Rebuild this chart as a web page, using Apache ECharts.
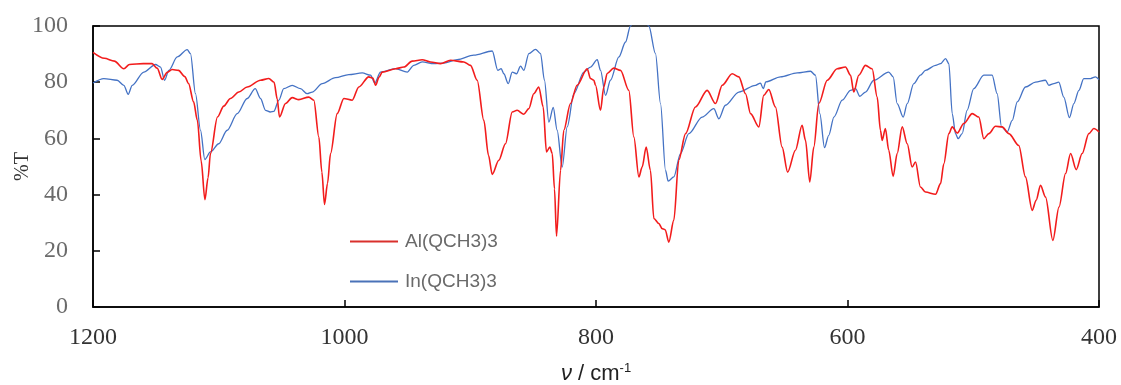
<!DOCTYPE html>
<html>
<head>
<meta charset="utf-8">
<script src="https://cdn.jsdelivr.net/npm/echarts@6/dist/echarts.min.js"></script>
<style>html,body{margin:0;padding:0;background:#fff;}#c{width:1121px;height:385px;}</style>
</head>
<body>
<div id="c"></div>
<script>
const xTicks = [1200, 1000, 800, 600, 400];
const yTicks = [0, 20, 40, 60, 80, 100];
const seriesNames = ['Al(QCH3)3', 'In(QCH3)3'];

const alWn = [1200,1191,1183,1175.5,1171,1160,1153,1149,1145,1141,1137,1132,1127,1124,1120,1117,1114,1111,1108.5,1106.6,1101,1096,1090.7,1084,1077.4,1066.8,1060.2,1056,1053.5,1051.7,1046.9,1041.6,1036.3,1028.4,1024.4,1020.4,1018,1015.9,1013.5,1011.1,1005.8,1000.5,993.9,988.6,980.7,977.5,975.3,972.5,970,959.4,952.8,946.2,938.2,931.6,923.7,915.7,905.1,899.8,894.5,889.2,885.5,882.5,877.3,872,866.6,862.7,857.4,853.4,849.5,845.5,842,839.4,836.7,834.8,833,831.4,828.2,825.6,820.3,815,807,804.4,801.7,800.4,796.4,793.8,791.1,785.9,780.5,773.9,769.9,765.9,763.3,760.1,756.7,754,750,747.4,745,742.1,738.1,734.2,728.8,720.9,711.6,705,699.6,691.7,686.4,681.1,677.1,670.5,666.6,662.6,657.3,652,647.6,641.4,636.1,633.4,630,626.8,622.8,616.1,608.2,601.6,597.6,595,591,585.7,580.4,576.4,573.8,572.4,569.9,567.2,563.7,560.5,556.5,552.5,548.6,545.9,542,538,530,526,523.4,519.4,516.7,512.8,507.5,500.8,495.6,491.6,487.6,482.3,477,471.7,463.8,458.5,453.1,450,446.5,442.5,436.7,431.8,426.6,422.6,418.1,413.4,408.1,404.1,400];
const alT = [90.6,88.5,87.5,84.8,86.3,86.6,86.6,85,81,83.5,84.5,84.2,82,79.5,73,66.4,52,38.2,46,54.6,67.6,71.5,74.2,76.5,78.3,80.7,81.3,80,74,67.6,72.4,74.5,73.8,74.7,73.6,60.5,48,36.5,44,54.6,68.8,74.2,73.6,78.3,81.9,81.5,78.9,81.8,83.6,84.8,85.4,87.5,88,87.2,86.6,87.8,87.2,86,80.7,66.4,54,47.2,52.2,58.1,69.4,70,68.6,70.6,75.9,78.3,71.2,55.2,56.9,54.6,42,25.2,48.6,62.9,72.4,78.9,84.8,81.3,80.7,78.9,70,78.3,83.1,85,84.2,77.1,60.5,46.3,49.8,56.9,48.6,31.5,29.7,27.9,27.5,23.1,30.9,52.2,61.7,71.2,77.1,72.4,78.9,83,81.9,75.9,68.8,64.1,75.3,77.4,71.2,56.9,48,55.8,64.7,59.3,44.5,56.9,72.4,80.7,84.8,85.4,82.5,76.5,82.5,86,84.8,74.7,62.9,59.3,63.5,55.8,46.5,54.6,64.1,58.1,49.8,51.6,42.7,40.9,40.1,43.9,51,61.7,64.1,61.9,65.3,68.8,67.6,59.9,61.7,64.3,64.1,61.7,57.5,46.3,34.4,38,43.3,39.1,23.7,35.6,47.5,54.6,48.9,54.6,61.7,63.5,62.3];

const inWn = [1200,1191.4,1180.8,1175.5,1172,1168.8,1159.6,1150.3,1146.3,1143.1,1139.7,1133,1125.1,1122.5,1118.5,1114.5,1111.1,1106.6,1100,1093.3,1085.3,1077.4,1071,1066.8,1062.8,1059,1056.2,1052.2,1048.3,1041.6,1035,1029.7,1025.7,1017.7,1007.2,996.6,985.9,979.3,975.9,971.4,959.4,950.1,944.9,938.2,929,921,910.4,897.2,882.5,878.1,875.4,873.3,869.8,866.6,863.2,860,857.4,853.4,848.1,844.1,841,837.5,834,830.9,826.9,822.9,817.6,809.7,804.4,799,796.4,792.4,788.5,781.8,776.5,772.6,768,763,758,752.7,748.7,744.7,742.6,738.1,732.8,726.2,715.6,706.3,702.3,697.1,686.4,673.2,669.2,667,665,653.3,640,629.4,625.5,622,618.3,614.9,610.8,604.2,597.6,593.6,590.2,585.7,579.1,567.2,563.7,560.5,555.7,552.5,547.3,542,538,530,526,522,519.4,516.7,514.1,512,508.8,504.9,499.6,491.6,485,481,477.5,473,469,465,458.5,450.5,442.6,439.9,435.9,432,428,423.5,420,416,412.1,406.7,402.8,400];
const inT = [79.7,81.3,80.7,78.9,75.7,78.9,83.6,86.3,85.4,80.7,84.2,89,91.6,90.2,75.9,62.9,52.5,55.2,58.1,62.9,68.8,74.2,77.7,74.2,70,69.4,69.6,73.6,77.7,78.9,77.7,75.9,76.5,79.5,81.6,82.7,83.3,82.5,79.7,83.6,84.8,83.6,86,87.2,86.6,86.8,88,89.6,91.1,84.2,84.8,83,79.5,83.6,83,85.7,84.2,90.2,91.7,90.2,80.7,65.8,71,62.9,49.8,64.1,75.9,83.6,85.4,88,84.2,75.3,80.7,89,94.3,100,103.5,104,100,90.2,72.4,48.6,44.8,46.3,54.6,61.7,67.6,70.6,67,71.8,76.5,78.9,79.7,77.7,80.1,81.9,83.3,83.9,82.5,68.8,56.7,61.1,67.6,73.6,77.1,77.7,75,76.5,80.7,83.6,81.9,72.4,67.6,72.4,79.5,82.5,84.2,86,86.6,88.4,86.6,68.8,61.7,59.9,61.7,70,77.7,82.5,82.5,75.9,64.1,62.3,66.4,73,78.3,80,80.7,78.9,79.5,80,74.7,67.4,72.4,77.1,81.3,81.3,81.9,80.9];

const pair = (xs, ys) => xs.map((x, i) => [x, ys[i]]);

const chart = echarts.init(document.getElementById('c'), null, {renderer: 'canvas'});
chart.setOption({
  animation: false,
  backgroundColor: '#fff',
  grid: {left: 93, right: 22, top: 26, bottom: 78, containLabel: false, outerBoundsMode: 'none',
    show: true, borderColor: '#000', borderWidth: 1.5, backgroundColor: 'transparent'},
  legend: {
    orient: 'vertical', left: 345, top: 227, itemGap: 21,
    icon: 'rect', itemWidth: 48, itemHeight: 2,
    textStyle: {color: '#6a6a6a', fontSize: 19, fontFamily: 'Liberation Sans, Arial, sans-serif', padding: [0,0,0,2]},
    data: seriesNames
  },
  xAxis: {
    type: 'value', inverse: true, min: 400, max: 1200, interval: 200,
    name: '{i|ν} / cm{s|-1}', nameLocation: 'middle', nameGap: 55, nameMoveOverlap: false,
    nameTextStyle: {color: '#222', fontSize: 22, fontFamily: 'Liberation Sans, Arial, sans-serif',
      rich: {i: {fontStyle: 'italic', fontSize: 22, color: '#222', fontFamily: 'Liberation Sans, Arial, sans-serif'}, s: {fontSize: 13, color: '#222', verticalAlign: 'top', padding: [0,0,11,0]}}},
    axisLine: {show: true, lineStyle: {color: '#000', width: 1.5}},
    axisTick: {show: true, inside: true, length: 7, lineStyle: {color: '#000', width: 1.5}},
    axisLabel: {color: '#333', fontSize: 24, fontFamily: 'Liberation Serif, serif', margin: 19,
      formatter: v => xTicks.includes(v) ? String(v) : ''},
    splitLine: {show: false}
  },
  yAxis: {
    type: 'value', min: 0, max: 100, interval: 20,
    name: '%T', nameLocation: 'middle', nameGap: 60, nameRotate: 90, nameMoveOverlap: false,
    nameTextStyle: {color: '#333', fontSize: 20, fontFamily: 'Liberation Serif, serif'},
    axisLine: {show: true, lineStyle: {color: '#000', width: 1.5}},
    axisTick: {show: true, inside: true, length: 7, lineStyle: {color: '#000', width: 1.5}},
    axisLabel: {color: '#6b6b6b', fontSize: 24, fontFamily: 'Liberation Serif, serif', margin: 25,
      formatter: v => yTicks.includes(v) ? String(v) : ''},
    splitLine: {show: false}
  },
  series: [
    {name: seriesNames[0], type: 'line', data: pair(alWn, alT), showSymbol: false, symbol: 'none', smooth: 0.3, smoothMonotone: 'x',
      clip: true, lineStyle: {color: '#f21c1c', width: 1.6}, itemStyle: {color: '#d9302c'}, z: 3},
    {name: seriesNames[1], type: 'line', data: pair(inWn, inT), showSymbol: false, symbol: 'none', smooth: 0.3, smoothMonotone: 'x',
      clip: true, lineStyle: {color: '#4472c4', width: 1.3}, itemStyle: {color: '#4a72b8'}, z: 2}
  ]
});
</script>
</body>
</html>
